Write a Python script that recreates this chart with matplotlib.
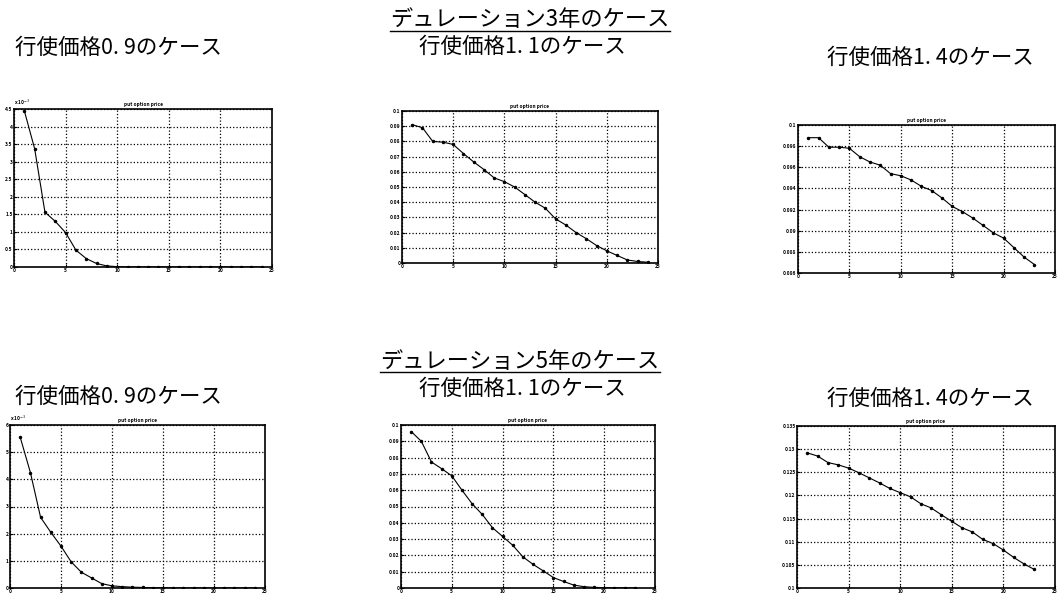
import matplotlib
matplotlib.use("Agg")
import matplotlib.pyplot as plt
from matplotlib.lines import Line2D
import numpy as np

plt.rcParams['font.family'] = ['Noto Sans CJK JP', 'DejaVu Sans']

# ---------------- data ----------------
headers = ["デュレーション3年のケース", "デュレーション5年のケース"]
strike_titles = ["行使価格0. 9のケース", "行使価格1. 1のケース", "行使価格1. 4のケース"]
plot_title = "put option price"

# Duration 3 years
x_3y_09 = list(range(1, 25))
y_3y_09 = [4.45, 3.37, 1.56, 1.30, 0.98, 0.48, 0.24, 0.10, 0.03, 0.01,
           0, 0, 0, 0, 0, 0, 0, 0, 0, 0, 0, 0, 0, 0]          # x 10^-3
x_3y_11 = list(range(1, 25))
y_3y_11 = [0.091, 0.089, 0.080, 0.0795, 0.078, 0.072, 0.0665, 0.0615, 0.056, 0.0535,
           0.050, 0.045, 0.040, 0.036, 0.029, 0.025, 0.020, 0.016, 0.0115, 0.008,
           0.005, 0.002, 0.001, 0.0005]
x_3y_14 = list(range(1, 24))
y_3y_14 = [0.0988, 0.0988, 0.0979, 0.0979, 0.0978, 0.0970, 0.0965, 0.0962, 0.0954, 0.0952,
           0.0948, 0.0942, 0.0938, 0.0931, 0.0923, 0.0918, 0.0912, 0.0905, 0.0898, 0.0893,
           0.0884, 0.0875, 0.0868]

# Duration 5 years
x_5y_09 = list(range(1, 25))
y_5y_09 = [5.55, 4.25, 2.60, 2.05, 1.54, 0.96, 0.58, 0.37, 0.16, 0.08,
           0.05, 0.03, 0.02, 0.01, 0.01, 0, 0, 0, 0, 0, 0, 0, 0, 0]   # x 10^-3
x_5y_11 = list(range(1, 24))
y_5y_11 = [0.096, 0.090, 0.0773, 0.0732, 0.0688, 0.060, 0.0517, 0.0451, 0.037, 0.0316,
           0.0262, 0.0191, 0.0145, 0.0105, 0.0064, 0.004, 0.0018, 0.0008, 0.0004, 0.0002,
           0.0001, 0.0001, 0.0]
x_5y_14 = list(range(1, 24))
y_5y_14 = [0.1292, 0.1285, 0.1271, 0.1266, 0.1259, 0.1249, 0.1238, 0.1227, 0.1215, 0.1206,
           0.1197, 0.1182, 0.1173, 0.1158, 0.1144, 0.1130, 0.1121, 0.1105, 0.1096, 0.1082,
           0.1066, 0.1052, 0.1040]

x_ticks = [0, 5, 10, 15, 20, 25]
yt_3y_09 = [0, 0.5, 1, 1.5, 2, 2.5, 3, 3.5, 4, 4.5]
yt_3y_11 = [0, 0.01, 0.02, 0.03, 0.04, 0.05, 0.06, 0.07, 0.08, 0.09, 0.1]
yt_3y_14 = [0.086, 0.088, 0.09, 0.092, 0.094, 0.096, 0.098, 0.1]
yt_5y_09 = [0, 1, 2, 3, 4, 5, 6]
yt_5y_11 = [0, 0.01, 0.02, 0.03, 0.04, 0.05, 0.06, 0.07, 0.08, 0.09, 0.1]
yt_5y_14 = [0.1, 0.105, 0.11, 0.115, 0.12, 0.125, 0.13, 0.135]

W, H = 1057, 598
fig = plt.figure(figsize=(W / 100, H / 100), dpi=100)
fig.patch.set_facecolor('white')


def px_axes(l, r, t, b):
    return fig.add_axes([l / W, 1 - b / H, (r - l) / W, (b - t) / H])


def draw(ax, x, y, yticks, scale_label=None):
    ax.plot(x, y, color='black', lw=0.8, marker='.', ms=3)
    ax.set_xlim(0, 25)
    ax.set_ylim(yticks[0], yticks[-1])
    ax.set_xticks(x_ticks)
    ax.set_yticks(yticks)
    ax.set_xticklabels([str(t) for t in x_ticks])
    ax.set_yticklabels([('%g' % t) for t in yticks])
    ax.grid(True, color='black', linestyle=':', linewidth=0.9)
    ax.tick_params(direction='in', length=2, width=0.8, labelsize=3.5, pad=1)
    for lab in ax.get_xticklabels() + ax.get_yticklabels():
        lab.set_fontweight('bold')
    for s in ax.spines.values():
        s.set_linewidth(1.2)
    ax.set_title(plot_title, fontsize=3.5, fontweight='bold', pad=2)
    if scale_label:
        ax.text(0.0, 1.01, scale_label, transform=ax.transAxes, fontsize=3.5,
                fontweight='bold', ha='left', va='bottom')


ax1 = px_axes(14, 272, 109, 267)
draw(ax1, x_3y_09, y_3y_09, yt_3y_09, r"x 10$^{-3}$")
ax2 = px_axes(402, 658, 111, 263)
draw(ax2, x_3y_11, y_3y_11, yt_3y_11)
ax3 = px_axes(798, 1055, 125, 273)
draw(ax3, x_3y_14, y_3y_14, yt_3y_14)

ax4 = px_axes(10, 265, 425, 588)
draw(ax4, x_5y_09, y_5y_09, yt_5y_09, r"x 10$^{-3}$")
ax5 = px_axes(401, 655, 425, 588)
draw(ax5, x_5y_11, y_5y_11, yt_5y_11)
ax6 = px_axes(797, 1055, 426, 588)
draw(ax6, x_5y_14, y_5y_14, yt_5y_14)

# headers and subtitles
hdr_pos = [(530, 20), (520, 361)]
sub_pos = [[(118, 48), (522, 47), (930, 58)],
           [(118, 397), (522, 389), (930, 399)]]

hdr_texts = []
for (hx, hy), h in zip(hdr_pos, headers):
    hdr_texts.append(fig.text(hx / W, 1 - hy / H, h, fontsize=16,
                              ha='center', va='center'))
for row in sub_pos:
    for (sx, sy), s in zip(row, strike_titles):
        fig.text(sx / W, 1 - sy / H, s, fontsize=15.5, ha='center', va='center')

# underline the headers
fig.canvas.draw()
rend = fig.canvas.get_renderer()
for t in hdr_texts:
    bb = t.get_window_extent(renderer=rend)
    yline = bb.y0 + 1
    fig.add_artist(Line2D([bb.x0 / W, bb.x1 / W], [yline / H, yline / H],
                          color='black', lw=1.0, transform=fig.transFigure))

fig.savefig("out.png", dpi=100, facecolor='white')
